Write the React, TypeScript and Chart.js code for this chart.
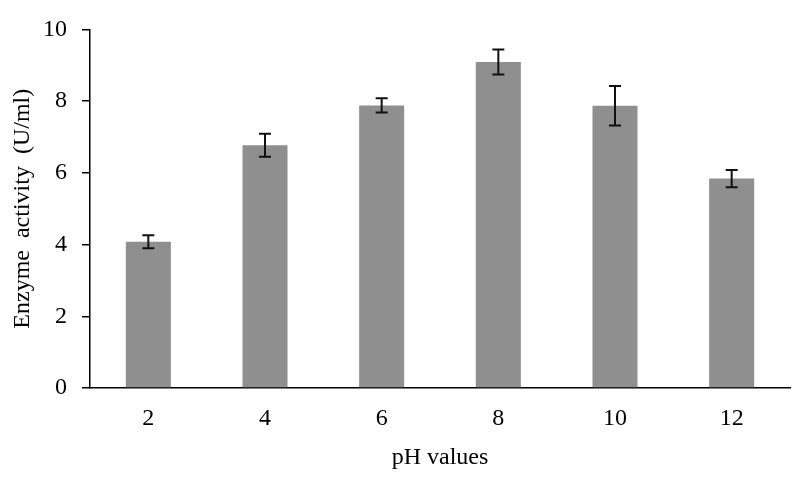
import React, { useEffect, useRef } from "react";
import { Chart, registerables } from "chart.js";

Chart.register(...registerables);

const categories = ["2", "4", "6", "8", "10", "12"];
const activityValues = [4.08, 6.77, 7.88, 9.09, 7.87, 5.84];
const errorValues = [0.18, 0.32, 0.2, 0.35, 0.55, 0.24];
const yTicks = [0, 2, 4, 6, 8, 10];

const FONT = "'Liberation Serif', 'Times New Roman', serif";

const errorBarPlugin = {
  id: "errorBars",
  afterDatasetsDraw(chart: any) {
    const { ctx } = chart;
    const meta = chart.getDatasetMeta(0);
    const yScale = chart.scales.y;
    ctx.save();
    ctx.strokeStyle = "#111";
    ctx.lineWidth = 2;
    meta.data.forEach((bar: any, i: number) => {
      const v = activityValues[i];
      const e = errorValues[i];
      const x = bar.x;
      const yTop = yScale.getPixelForValue(v + e);
      const yBot = yScale.getPixelForValue(v - e);
      const cap = 6;
      ctx.beginPath();
      ctx.moveTo(x, yTop);
      ctx.lineTo(x, yBot);
      ctx.moveTo(x - cap, yTop);
      ctx.lineTo(x + cap, yTop);
      ctx.moveTo(x - cap, yBot);
      ctx.lineTo(x + cap, yBot);
      ctx.stroke();
    });
    ctx.restore();
  },
};

export default function App() {
  const ref = useRef<HTMLCanvasElement>(null);

  useEffect(() => {
    if (!ref.current) return;
    const chart = new Chart(ref.current, {
      type: "bar",
      data: {
        labels: categories,
        datasets: [
          {
            data: activityValues,
            backgroundColor: "#8f8f8f",
            borderWidth: 0,
            barPercentage: 0.386,
            categoryPercentage: 1,
          },
        ],
      },
      options: {
        responsive: false,
        animation: false,
        layout: { padding: { top: 27, right: 10, left: 0, bottom: 0 } },
        plugins: {
          legend: { display: false },
          tooltip: { enabled: false },
        },
        scales: {
          x: {
            grid: { display: false, drawTicks: false },
            border: { display: true, color: "#000", width: 1.5 },
            ticks: {
              color: "#000",
              padding: 16,
              font: { family: FONT, size: 24 },
            },
            title: {
              display: true,
              text: "pH values",
              color: "#000",
              font: { family: FONT, size: 24 },
              padding: { top: 0, bottom: 5 },
            },
            afterFit: (s: any) => {
              s.height = 89;
            },
          },
          y: {
            min: 0,
            max: 10,
            afterBuildTicks: (s: any) => {
              s.ticks = yTicks.map((v) => ({ value: v }));
            },
            grid: {
              display: true,
              drawOnChartArea: false,
              drawTicks: true,
              tickLength: 8,
              color: "#000",
              lineWidth: 1.5,
            },
            border: { display: true, color: "#000", width: 1.5 },
            ticks: {
              color: "#000",
              padding: 15,
              font: { family: FONT, size: 24 },
            },
            title: {
              display: true,
              text: "Enzyme  activity  (U/ml)",
              color: "#000",
              font: { family: FONT, size: 24 },
              padding: { top: 8, bottom: 0 },
            },
            afterFit: (s: any) => {
              s.width = 90;
            },
          },
        },
      },
      plugins: [errorBarPlugin],
    });
    return () => chart.destroy();
  }, []);

  return (
    <div
      style={{
        position: "absolute",
        left: 0,
        top: 0,
        width: 800,
        height: 477,
        background: "#fff",
      }}
    >
      <canvas ref={ref} width={800} height={477} />
    </div>
  );
}
